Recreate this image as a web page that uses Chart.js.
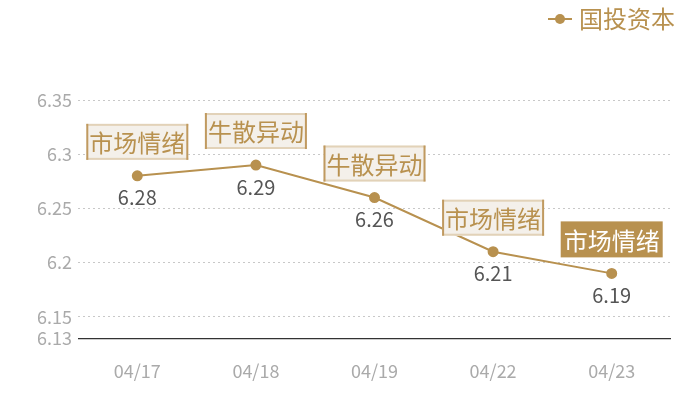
<!DOCTYPE html>
<html>
<head>
<meta charset="utf-8">
<script src="https://cdn.jsdelivr.net/npm/chart.js@4"></script>
<style>
  html, body { margin: 0; padding: 0; background: #fff; }
  #wrap { width: 700px; height: 400px; }
</style>
</head>
<body>
<div id="wrap"><canvas id="chart"></canvas></div>
<script>
const dates = ['04/17', '04/18', '04/19', '04/22', '04/23'];
const prices = [6.28, 6.29, 6.26, 6.21, 6.19];
const tags = ['市场情绪', '牛散异动', '牛散异动', '市场情绪', '市场情绪'];
const highlighted = [false, false, false, false, true];
const yTicks = [6.13, 6.15, 6.2, 6.25, 6.3, 6.35];
const seriesName = '国投资本';

const gold = '#b8914f';
const fontFamily = '"Noto Sans CJK SC", "Noto Sans", sans-serif';

// tags above points, values below, and the legend in the corner
const overlay = {
  id: 'overlay',
  afterDatasetsDraw(chart) {
    const ctx = chart.ctx;
    const meta = chart.getDatasetMeta(0);
    ctx.save();
    meta.data.forEach((pt, i) => {
      const x = pt.x, y = pt.y;
      // value label
      ctx.font = '20px ' + fontFamily;
      ctx.fillStyle = '#555';
      ctx.textAlign = 'center';
      ctx.textBaseline = 'middle';
      ctx.fillText(prices[i], x, y + 22);
      // tag box
      const w = 102, h = 36;
      const bx = x - w / 2, by = y - 16 - h;
      if (highlighted[i]) {
        ctx.fillStyle = gold;
        ctx.fillRect(bx, by, w, h);
      } else {
        ctx.fillStyle = '#f4f0ea';
        ctx.fillRect(bx, by, w, h);
        ctx.fillStyle = '#e2d2b8';
        ctx.fillRect(bx, by, w, 2);
        ctx.fillRect(bx, by + h - 2, w, 2);
        ctx.fillStyle = '#c09a60';
        ctx.fillRect(bx, by, 2, h);
        ctx.fillRect(bx + w - 2, by, 2, h);
      }
      ctx.font = '24px ' + fontFamily;
      ctx.fillStyle = highlighted[i] ? '#fff' : gold;
      ctx.fillText(tags[i], x, by + h / 2 + 1);
    });
    // legend
    ctx.strokeStyle = gold;
    ctx.lineWidth = 2;
    ctx.beginPath();
    ctx.moveTo(548, 19);
    ctx.lineTo(572, 19);
    ctx.stroke();
    ctx.fillStyle = gold;
    ctx.beginPath();
    ctx.arc(560, 19, 5, 0, Math.PI * 2);
    ctx.fill();
    ctx.font = '24px ' + fontFamily;
    ctx.textAlign = 'left';
    ctx.textBaseline = 'middle';
    ctx.fillText(seriesName, 579, 19);
    ctx.restore();
  }
};

const isBase = ctx => ctx.tick && ctx.tick.value === 6.13;

new Chart(document.getElementById('chart'), {
  type: 'line',
  data: {
    labels: dates,
    datasets: [{
      label: seriesName,
      data: prices,
      borderColor: gold,
      backgroundColor: gold,
      borderWidth: 2,
      pointRadius: 4.5,
      pointHoverRadius: 4.5,
      tension: 0
    }]
  },
  options: {
    responsive: true,
    maintainAspectRatio: false,
    animation: false,
    layout: {
      padding: { top: 100, right: 29, left: 0, bottom: 4 }
    },
    plugins: {
      legend: { display: false },
      tooltip: { enabled: false }
    },
    scales: {
      x: {
        offset: true,
        grid: { display: false },
        border: { display: false },
        ticks: {
          color: '#aaa',
          font: { size: 18, family: fontFamily },
          padding: 14
        }
      },
      y: {
        min: 6.13,
        max: 6.35,
        afterBuildTicks: axis => {
          axis.ticks = yTicks.map(v => ({ value: v }));
        },
        afterFit: axis => { axis.width = 78; },
        grid: {
          color: ctx => isBase(ctx) ? '#333' : '#c8c8c8',
          lineWidth: ctx => isBase(ctx) ? 1.3 : 1,
          drawTicks: false
        },
        border: { display: false, dash: ctx => isBase(ctx) ? [] : [2, 3] },
        ticks: {
          color: '#aaa',
          font: { size: 18, family: fontFamily },
          padding: 6,
          callback: v => String(v)
        }
      }
    }
  },
  plugins: [overlay]
});
</script>
</body>
</html>
